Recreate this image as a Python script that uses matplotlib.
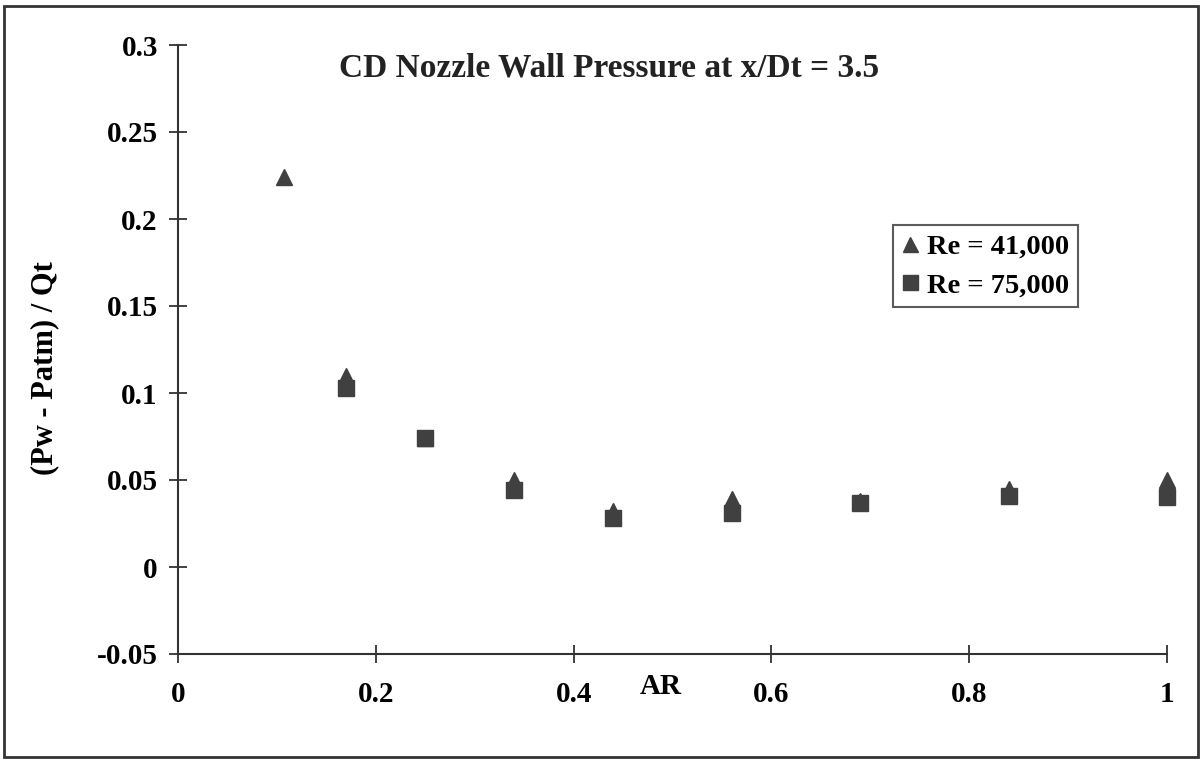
import matplotlib.pyplot as plt
from matplotlib.patches import Rectangle

# Re = 41,000 (triangles)
ar_41 = [0.107, 0.17, 0.25, 0.34, 0.44, 0.56, 0.69, 0.84, 1.0]
cp_41 = [0.224, 0.110, 0.074, 0.050, 0.032, 0.039, 0.038, 0.045, 0.050]

# Re = 75,000 (squares)
ar_75 = [0.17, 0.25, 0.34, 0.44, 0.56, 0.69, 0.84, 1.0]
cp_75 = [0.103, 0.074, 0.044, 0.028, 0.031, 0.037, 0.041, 0.040]

xticks = [0, 0.2, 0.4, 0.6, 0.8, 1]
xticklabels = ['0', '0.2', '0.4', '0.6', '0.8', '1']
yticks = [-0.05, 0, 0.05, 0.1, 0.15, 0.2, 0.25, 0.3]
yticklabels = ['-0.05', '0', '0.05', '0.1', '0.15', '0.2', '0.25', '0.3']

plt.rcParams['font.family'] = 'Liberation Serif'
plt.rcParams['font.weight'] = 'bold'

fs = 21
col = '#404040'

fig = plt.figure(figsize=(12.01, 7.61), dpi=100)
ax = fig.add_axes([178 / 1201, 1 - 654 / 761, (1167 - 178) / 1201, (654 - 45) / 761])

ax.plot(ar_41, cp_41, linestyle='none', marker='^', markersize=12,
        color=col, label='Re = 41,000', clip_on=False)
ax.plot(ar_75, cp_75, linestyle='none', marker='s', markersize=12,
        color=col, label='Re = 75,000', clip_on=False)

ax.set_xlim(0, 1)
ax.set_ylim(-0.05, 0.3)
ax.set_xticks(xticks)
ax.set_xticklabels(xticklabels)
ax.set_yticks(yticks)
ax.set_yticklabels(yticklabels)

for s in ['top', 'right']:
    ax.spines[s].set_visible(False)
for s in ['left', 'bottom']:
    ax.spines[s].set_color('#333333')
    ax.spines[s].set_linewidth(1.5)

ax.tick_params(axis='both', direction='inout', length=13, width=1.3,
               color='#333333', labelsize=fs)
ax.tick_params(axis='y', pad=8)
ax.tick_params(axis='x', pad=13)

fig.text(609 / 1201, 1 - 68 / 761, 'CD Nozzle Wall Pressure at x/Dt = 3.5',
         ha='center', va='center', fontsize=24, fontweight='bold', color='#222222')

fig.text(661 / 1201, 1 - 687 / 761, 'AR', ha='center', va='center',
         fontsize=fs, fontweight='bold')
fig.text(45 / 1201, 1 - 368 / 761, '(Pw - Patm) / Qt', ha='center', va='center',
         rotation=90, fontsize=22, fontweight='bold')

leg = ax.legend(loc='upper left', bbox_to_anchor=((893 - 178) / 989, (654 - 225) / 609),
                fontsize=20.5, frameon=True, fancybox=False, handlelength=0.6,
                handletextpad=0.3, borderpad=0.3, labelspacing=0.45, borderaxespad=0,
                markerscale=0.9)
leg.get_frame().set_edgecolor('#333333')
leg.get_frame().set_linewidth(1.5)

fig.patches.append(Rectangle((4 / 1201, 4 / 761), 1194 / 1201, 751 / 761,
                             transform=fig.transFigure, fill=False,
                             edgecolor='#333333', linewidth=2))

plt.savefig('out.png', dpi=100)
